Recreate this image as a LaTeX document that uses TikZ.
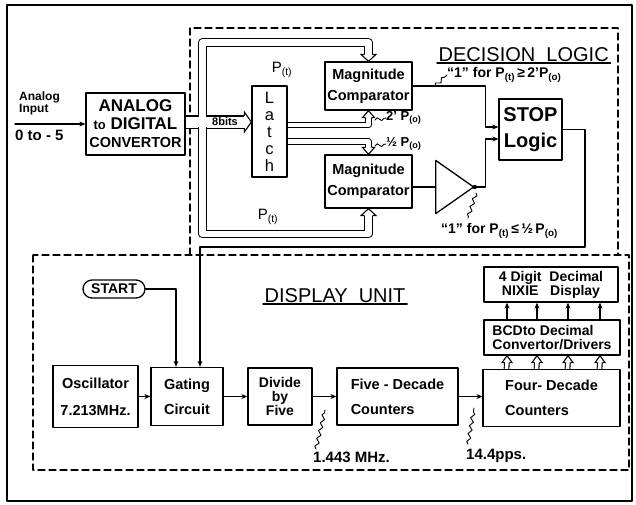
\documentclass[tikz,border=0pt]{standalone}
\usepackage{fontspec}
\setmainfont{Liberation Sans}
\usetikzlibrary{arrows.meta,shapes.geometric,decorations.pathmorphing,calc}

\newcommand{\Pt}{P\textsubscript{(t)}}
\newcommand{\Po}{P\textsubscript{(o)}}

\tikzset{
  blk/.style={draw, line width=1.3pt, inner sep=1pt, align=center,
    font=\bfseries\fontsize{14.5}{15}\selectfont},
  unitbox/.style={line width=1.1pt, dash pattern=on 7pt off 4pt},
  wire/.style={line width=1.1pt},
  sig/.style={wire, -{Stealth[length=6pt,width=5pt]}},
  bus/.style={line width=1.1pt, line cap=butt, double, double distance=6.5pt},
  pointer/.style={line width=0.9pt, decorate,
    decoration={snake, amplitude=1.8pt, segment length=8pt}},
  lbl/.style={inner sep=0pt, font=\bfseries\fontsize{14}{15}\selectfont},
  title/.style={inner sep=1.5pt, font=\fontsize{20}{20}\selectfont},
  % open head of a bus, tip at the origin, pointing along +x
  pics/bushead/.style 2 args={code={
    \fill[white] (-7,-#2) -- (0,0) -- (-7,#2) -- cycle;
    \draw[wire, line cap=butt, line join=miter]
      (-7,#1) -- (-7,#2) -- (0,0) -- (-7,-#2) -- (-7,-#1);
  }},
}

\begin{document}
\begin{tikzpicture}[x=1pt, y=-1pt, line cap=round, line join=round]
\useasboundingbox (0,0) rectangle (636,504);

% -----------------------
% Parameters
% -----------------------
\def\wide{11pt}    % gap of the bus into the latch
\def\thin{4.5pt}   % gap of the latch output buses

% -----------------------
% Frame and the two units
% -----------------------
\draw[line width=1.6pt] (7,5) rectangle (632,501);
\draw[unitbox] (190,255) |- (618,28) -- (618,255);
\draw[unitbox] (33,255) rectangle (629,470);

\node[title, anchor=south west] (decT) at (437,63) {DECISION\ \ LOGIC};
\draw[line width=1.5pt] (decT.south west) -- (decT.south east);
\node[title, anchor=south west] (disT) at (263,304) {DISPLAY\ \ UNIT};
\draw[line width=1.5pt] (disT.south west) -- (disT.south east);

% -----------------------
% Decision logic
% -----------------------
\node[blk, minimum width=99pt, minimum height=62pt,
  font=\bfseries\fontsize{17}{18}\selectfont] (adc) at (135.5,124)
  {ANALOG\\{\fontsize{13}{13}\selectfont to} DIGITAL\\
   {\fontsize{14.5}{15}\selectfont CONVERTOR}};
\node[draw, line width=1.3pt, minimum width=35pt, minimum height=91pt,
  align=center, font=\fontsize{16.5}{17}\selectfont] (latch) at (269.5,131.5)
  {L\\a\\t\\c\\h};
\node[blk, minimum width=87pt, minimum height=48pt] (cmpA) at (368.5,86)
  {Magnitude\\[6pt]Comparator};
\node[blk, minimum width=87pt, minimum height=53pt] (cmpB) at (368.5,181.5)
  {Magnitude\\[6pt]Comparator};
\node[blk, minimum width=63pt, minimum height=61pt,
  font=\bfseries\fontsize{20}{26}\selectfont] (stop) at (530.5,129.5)
  {STOP\\Logic};
\node[draw, line width=1.3pt, isosceles triangle,
  isosceles triangle apex angle=70, minimum height=38pt, inner sep=0pt,
  anchor=west] (buf) at (435,187) {};

% input
\coordinate (ain) at (15,124);
\draw[sig] (ain) -- (adc.west);
\node[lbl, anchor=south west, align=left,
  font=\bfseries\fontsize{12}{12}\selectfont] (ainLbl) at (19,115)
  {Analog\\Input};
\node[lbl, anchor=north west, font=\bfseries\fontsize{15}{15}\selectfont]
  (rngLbl) at (15,130) {0 to - 5};

% buses from the convertor
\coordinate (J) at (202.5,122);
\draw[bus, double distance=\wide] (adc.east |- J) -- (J);
\draw[bus, double distance=\wide] (J) -- ([xshift=-7pt]latch.west |- J);
\pic at (latch.west |- J) {bushead={6.05}{10}};
\draw[bus] (J) -- (202.5,42.5) -| ([yshift=7pt]cmpA.north);
\pic[rotate=-90] at (cmpA.north) {bushead={3.8}{7.5}};
\draw[bus] (J) -- (202.5,234) -| ([yshift=-7pt]cmpB.south);
\pic[rotate=90] at (cmpB.south) {bushead={3.8}{7.5}};
\fill[white] ($(J)+(-4.5,-5.4)$) rectangle ($(J)+(4.5,5.4)$);
\node[lbl, font=\bfseries\fontsize{11}{11}\selectfont] (bitLbl)
  at (225,122) {8bits};
\node[lbl, font=\fontsize{15}{15}\selectfont] (ptA) at (282,70) {\Pt};
\node[lbl, font=\fontsize{15}{15}\selectfont] (ptB) at (268,217) {\Pt};

% latch outputs
\draw[bus, double distance=\thin]
  ([yshift=6.5pt]latch.east) -| ([yshift=-7pt]cmpA.south);
\pic[rotate=90] at (cmpA.south) {bushead={2.8}{6}};
\draw[bus, double distance=\thin]
  ([yshift=-10pt]latch.east) -| ([yshift=7pt]cmpB.north);
\pic[rotate=-90] at (cmpB.north) {bushead={2.8}{6}};
\node[lbl, anchor=west, font=\bfseries\fontsize{13}{13}\selectfont]
  (twoLbl) at (386,118) {2' \Po};
\node[lbl, anchor=west, font=\bfseries\fontsize{13}{13}\selectfont]
  (halfLbl) at (386,144) {½ \Po};
\draw[pointer] (375,120) -- (twoLbl.west);
\draw[pointer] (375,146) -- (halfLbl.west);

% comparator outputs into STOP logic
\coordinate (inA) at ([yshift=2.5pt]stop.west);
\coordinate (inB) at ([yshift=-9.5pt]stop.west);
\draw[sig] (cmpA.east) -| ($(inA)+(-13,0)$) -- (inA);
\draw[wire] (cmpB.east |- buf.west) -- (buf.west);
\fill (buf.apex) circle (2.2pt);
\draw[sig] (buf.apex) -| ($(inB)+(-13,0)$) -- (inB);

\node[lbl, anchor=west] (hiLbl) at (447,75) {``1'' for \Pt\,≥\,2'\Po};
\node[lbl, anchor=west] (loLbl) at (441,231) {``1'' for \Pt\,≤\,½\,\Po};
\draw[pointer] (435,86) -- (hiLbl.west);
\draw[pointer] (476,193) -- (468,218);

% -----------------------
% Display unit
% -----------------------
\node[draw, line width=1.3pt, rounded corners=9pt, minimum width=62pt,
  minimum height=18pt, inner sep=0pt,
  font=\bfseries\fontsize{14}{14}\selectfont] (start) at (114,289) {START};
\node[blk, minimum width=85pt, minimum height=62pt] (osc) at (95.5,396.5)
  {Oscillator\\[12pt]7.213MHz.};
\node[blk, minimum width=72pt, minimum height=58pt] (gating) at (187,396.5)
  {Gating\\[10pt]Circuit};
\node[blk, minimum width=64pt, minimum height=57pt,
  font=\bfseries\fontsize{14}{14}\selectfont] (divide) at (280,396.5)
  {Divide\\by\\Five};
\node[blk, minimum width=121pt, minimum height=57pt, align=left]
  (five) at (397.5,396.5) {Five - Decade\\[10pt]Counters};
\node[blk, minimum width=137pt, minimum height=57pt, align=left]
  (four) at (551.5,398) {Four- Decade\\[10pt]Counters};
\node[blk, minimum width=136pt, minimum height=35pt, align=left,
  font=\bfseries\fontsize{14}{14}\selectfont] (bcd) at (552,337.5)
  {BCDto Decimal\\Convertor/Drivers};
\node[blk, minimum width=134pt, minimum height=35pt,
  font=\bfseries\fontsize{14}{13}\selectfont] (nixie) at (551,284.5)
  {4 Digit\ \ Decimal\\NIXIE\ \ \ Display};

\draw[sig] (start.east) -| ([xshift=-11pt]gating.north);
\draw[sig] (stop.east) -| (585,247) -| ([xshift=13pt]gating.north);
\draw[sig] (osc) -- (gating);
\draw[sig] (gating) -- (divide);
\draw[sig] (divide) -- (five);
\draw[sig] (five) -- (five -| four.west);

\foreach \dx in {-45,-15,16,48}{
  \draw[sig] ([xshift=\dx pt]bcd.north) -- ([xshift=\dx pt]bcd.north |- nixie.south);
  \draw[bus, double distance=3.5pt]
    ([xshift=\dx pt]four.north) -- ([xshift=\dx pt, yshift=-6pt]bcd.south);
  \pic[rotate=90] at ([xshift=\dx pt]bcd.south) {bushead={2.3}{5}};
}

\node[lbl, anchor=south west, font=\bfseries\fontsize{15}{15}\selectfont]
  (mhzLbl) at (313,463) {1.443 MHz.};
\node[lbl, anchor=south west, font=\bfseries\fontsize{15}{15}\selectfont]
  (ppsLbl) at (466,463) {14.4pps.};
\draw[pointer] ([xshift=3pt,yshift=3pt]mhzLbl.north west) -- (325,410);
\draw[pointer] ([xshift=2pt,yshift=5pt]ppsLbl.north west) -- (474,408);

\end{tikzpicture}
\end{document}
